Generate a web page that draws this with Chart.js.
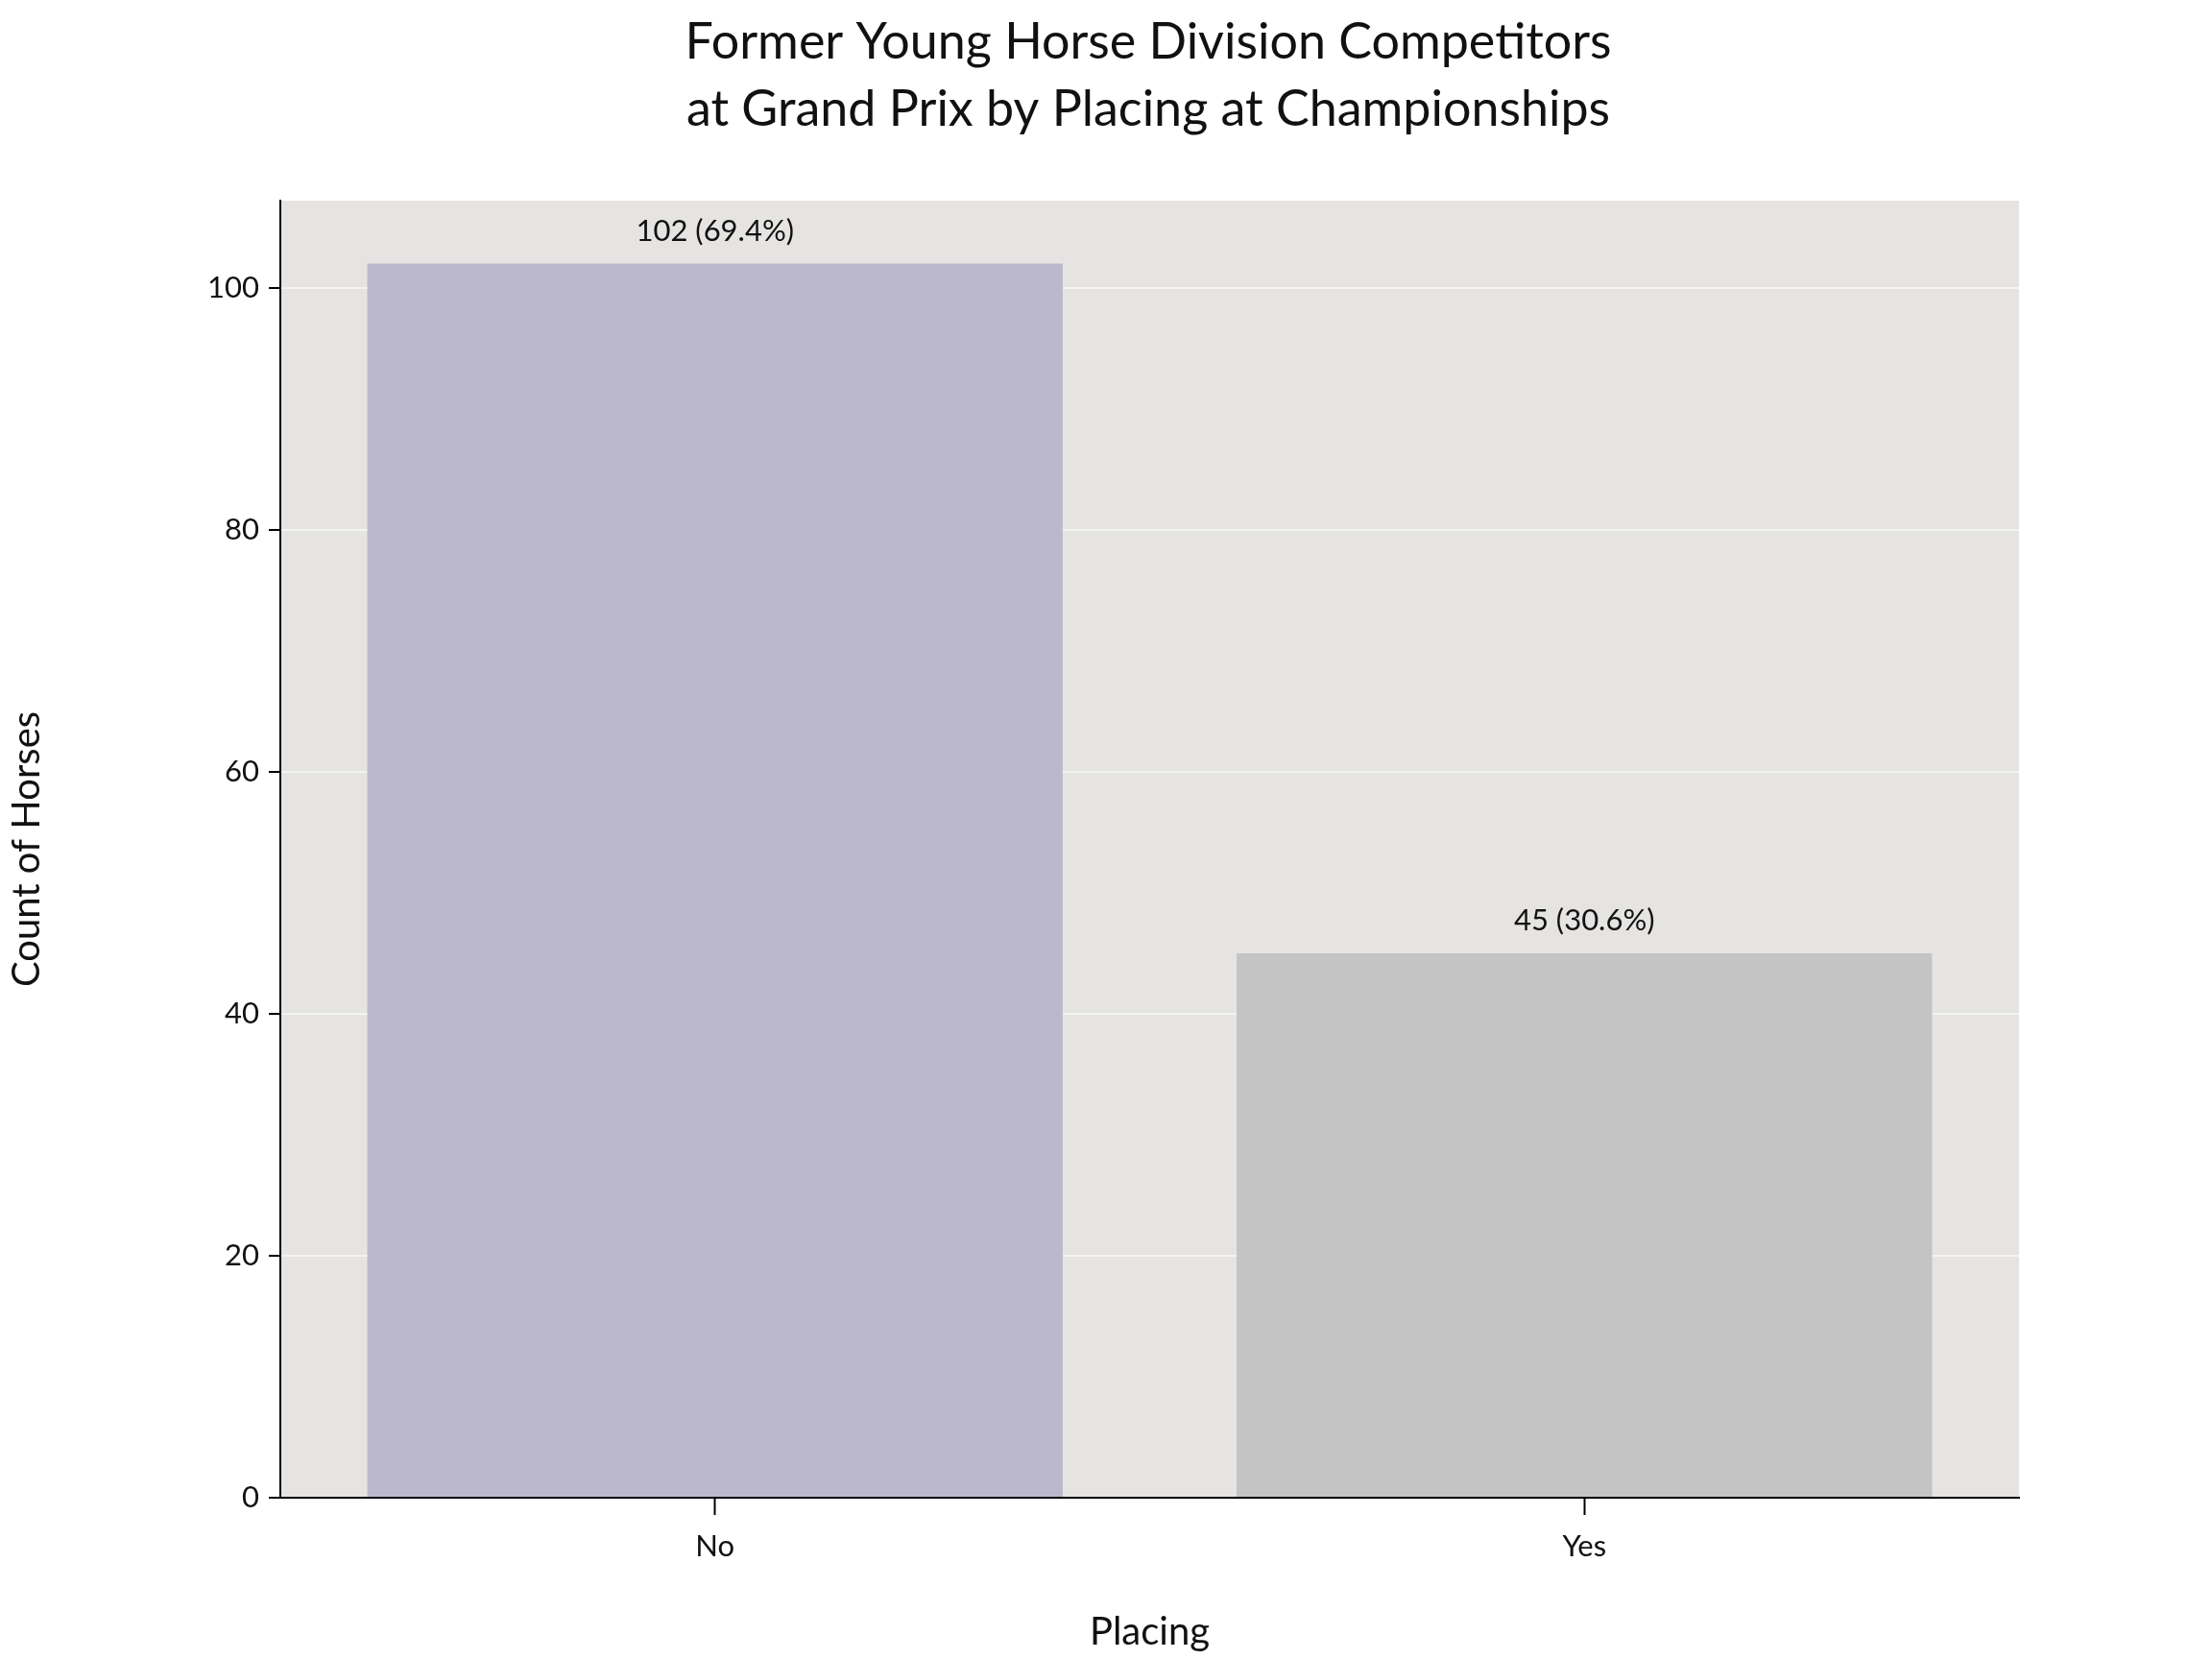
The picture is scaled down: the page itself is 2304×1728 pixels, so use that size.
<!DOCTYPE html>
<html>
<head>
<meta charset="utf-8">
<script src="https://cdn.jsdelivr.net/npm/chart.js@4/dist/chart.umd.min.js"></script>
<style>
  html, body { margin: 0; padding: 0; background: #fff; }
  #wrap { width: 2304px; height: 1728px; }
</style>
</head>
<body>
<div id="wrap"><canvas id="chart"></canvas></div>
<script>
const categories = ['No', 'Yes'];
const counts = [102, 45];
const percents = ['69.4%', '30.6%'];
const yTicks = [0, 20, 40, 60, 80, 100];

const FONT = "Lato, 'Noto Sans', sans-serif";

// grey panel behind the plot
const panelBg = {
    id: 'panelBg',
    beforeDraw(chart) {
        const { ctx, chartArea: a } = chart;
        ctx.save();
        ctx.fillStyle = '#e5e4e2';
        ctx.fillRect(a.left, a.top, a.right - a.left, a.bottom - a.top);
        ctx.restore();
    }
};

// title + value labels
const extras = {
    id: 'extras',
    afterDraw(chart) {
        const { ctx } = chart;
        ctx.save();
        ctx.fillStyle = '#111';
        ctx.textAlign = 'center';
        ctx.textBaseline = 'middle';
        ctx.font = '52px ' + FONT;
        ctx.fillText('Former Young Horse Division Competitors', 1196, 44);
        ctx.fillText('at Grand Prix by Placing at Championships', 1196, 114);
        ctx.font = '31px ' + FONT;
        const meta = chart.getDatasetMeta(0);
        meta.data.forEach((bar, i) => {
            ctx.fillText(counts[i] + ' (' + percents[i] + ')', bar.x, bar.y - 34);
        });
        ctx.restore();
    }
};

new Chart(document.getElementById('chart'), {
    type: 'bar',
    data: {
        labels: categories,
        datasets: [{
            data: counts,
            backgroundColor: ['#bcb8cc', '#c4c4c4'],
            barPercentage: 0.8,
            categoryPercentage: 1.0
        }]
    },
    plugins: [panelBg, extras],
    options: {
        responsive: true,
        maintainAspectRatio: false,
        animation: false,
        devicePixelRatio: 1,
        layout: { padding: { top: 209, right: 201, left: 0, bottom: 0 } },
        plugins: { legend: { display: false }, tooltip: { enabled: false } },
        scales: {
            x: {
                afterFit(s) { s.height = 168; },
                grid: { drawOnChartArea: false, offset: false, color: '#000', tickLength: 18, tickWidth: 2 },
                border: { color: '#000', width: 2 },
                ticks: { color: '#111', font: { size: 31, family: FONT }, padding: 14 },
                title: { display: true, text: 'Placing', color: '#111', font: { size: 40, family: FONT }, padding: { top: 12 } }
            },
            y: {
                min: 0,
                max: 107.2,
                afterFit(s) { s.width = 292; },
                afterBuildTicks(s) { s.ticks = yTicks.map(v => ({ value: v })); },
                grid: { color: 'rgba(255,255,255,0.55)', lineWidth: 2, tickColor: '#000', tickLength: 12, tickWidth: 2 },
                border: { color: '#000', width: 2 },
                ticks: { color: '#111', font: { size: 31, family: FONT }, padding: 10 },
                title: { display: true, text: 'Count of Horses', color: '#111', font: { size: 40, family: FONT }, padding: { bottom: 50 } }
            }
        }
    }
});
</script>
</body>
</html>
